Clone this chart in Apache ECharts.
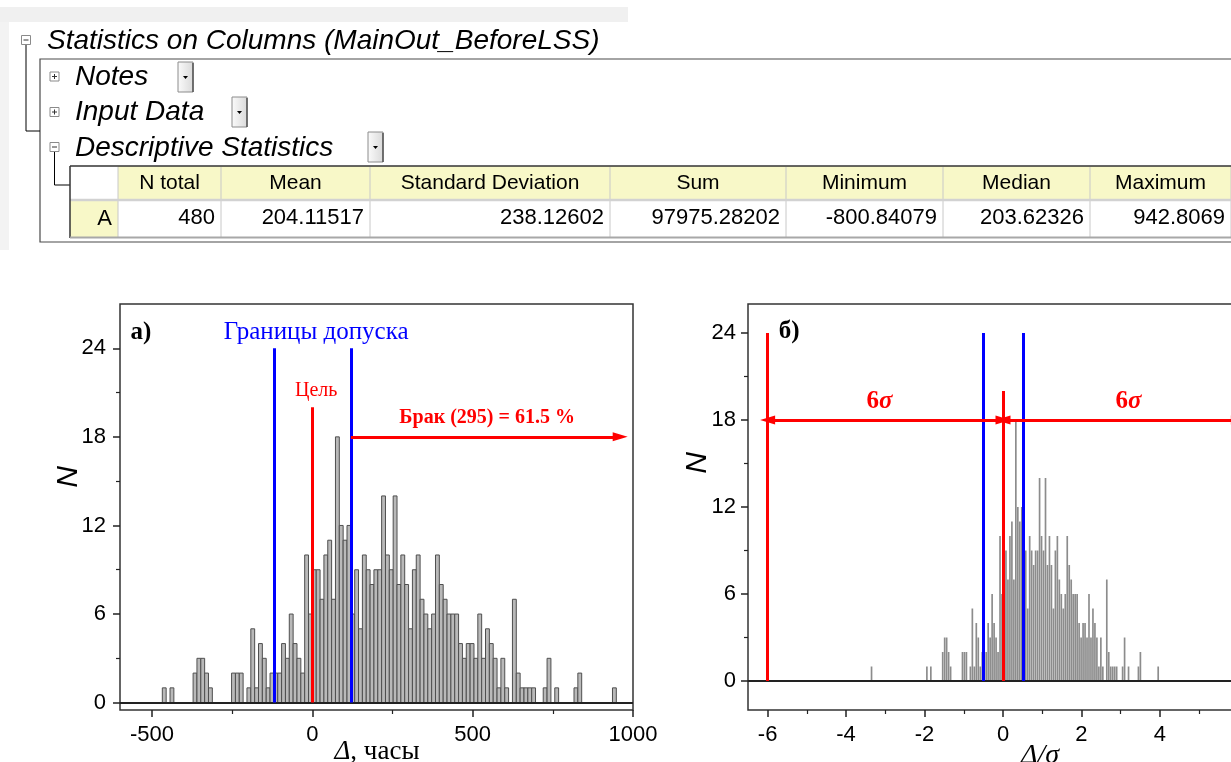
<!DOCTYPE html>
<html>
<head>
<meta charset="utf-8">
<script src="https://cdn.jsdelivr.net/npm/echarts@6/dist/echarts.min.js"></script>
<style>
  html, body { margin: 0; padding: 0; background: #fff; }
  #main { width: 1231px; height: 762px; }
</style>
</head>
<body>
<div id="main"></div>
<script>
// ---- Descriptive statistics table ----
const statHeaders = ['N total', 'Mean', 'Standard Deviation', 'Sum', 'Minimum', 'Median', 'Maximum'];
const statRowName = 'A';
const statValues = ['480', '204.11517', '238.12602', '97975.28202', '-800.84079', '203.62326', '942.8069'];

// ---- Histogram of deviations Δ (hours), 12-hour bins; only non-empty bins listed ----
const BIN_WIDTH = 12;
const binStartHours = [
  -804, -468, -444, -372, -360, -348, -336, -324, -252, -240, -228, -204, -192, -180, -168, -156,
  -144, -132, -120, -108, -96, -84, -72, -60, -48, -36, -24, -12,
  0, 12, 24, 36, 48, 60, 72, 84, 96, 108, 120, 132, 144, 156, 168, 180, 192, 204, 216, 228,
  240, 252, 264, 276, 288, 300, 312, 324, 336, 348, 360, 372, 384, 396, 408, 420, 432, 444,
  456, 468, 480, 492, 504, 516, 528, 540, 552, 564, 576, 588, 600, 624, 636, 648, 660, 672,
  684, 720, 732, 756, 816, 828, 936
];
const binCounts = [
  1, 1, 1, 2, 3, 3, 2, 1, 2, 2, 2, 1, 5, 1, 4, 3,
  1, 2, 2, 2, 4, 3, 6, 4, 3, 2, 10, 6,
  9, 9, 7, 10, 11, 7, 18, 12, 11, 12, 6, 9, 5, 10, 9, 8, 9, 9, 14, 10,
  9, 14, 8, 10, 8, 5, 9, 10, 7, 6, 5, 6, 10, 8, 7, 6, 6, 6,
  4, 3, 4, 4, 3, 6, 3, 5, 4, 3, 1, 3, 1, 7, 2, 1, 1, 1,
  1, 1, 3, 1, 1, 2, 1
];

// ---- Tolerance, target and reject annotation ----
const toleranceHours = [-120, 120];
const targetHours = 0;
const limitLineTop = 24;
const targetLineTop = 20;
const arrowLevel = 18;
const rejectArrowEnd = 960;
const rejectLabel = 'Брак (295) = 61.5 %';
const sigmaSpan = [-6, 0, 6];

// ---- Axis ticks ----
const xTicksHours = [-500, 0, 500, 1000];
const xMinorHours = [-250, 250, 750];
const xTicksSigma = [-6, -4, -2, 0, 2, 4, 6];
const xMinorSigma = [-5, -3, -1, 1, 3, 5];
const yTicksN = [0, 6, 12, 18, 24];
const yMinorN = [3, 9, 15, 21];

const sigma = parseFloat(statValues[2]);

const SANS = '"Liberation Sans", Arial, sans-serif';
const SERIF = '"Liberation Serif", "Times New Roman", serif';
const RED = '#ff0000';
const BLUE = '#0000ff';

const histHours = binStartHours
  .map((s, i) => [s, s + BIN_WIDTH, binCounts[i]])
  .filter(d => d[0] >= -600);
const histSigma = binStartHours.map((s, i) => [s / sigma, (s + BIN_WIDTH) / sigma, binCounts[i]]);

function histRender(fill, stroke, lineWidth, frac) {
  return function (params, api) {
    const p0 = api.coord([api.value(0), api.value(2)]);
    const p1 = api.coord([api.value(1), 0]);
    const w = p1[0] - p0[0];
    const inset = w * (1 - frac) / 2;
    return {
      type: 'rect',
      shape: { x: p0[0] + inset, y: p0[1], width: w - 2 * inset, height: p1[1] - p0[1] },
      style: { fill: fill, stroke: stroke, lineWidth: lineWidth }
    };
  };
}

function majorAxis(gridIndex, position, min, max, ticks, margin) {
  return {
    type: 'value', gridIndex, position, min, max,
    axisLine: { show: false, onZero: false }, splitLine: { show: false },
    axisTick: { show: true, inside: false, length: 7, lineStyle: { color: '#222', width: 1.5 }, customValues: ticks },
    axisLabel: { show: true, customValues: ticks, margin, fontSize: 22, fontFamily: SANS, color: '#000',
                 formatter: v => String(v) }
  };
}
function minorAxis(gridIndex, position, min, max, ticks) {
  return {
    type: 'value', gridIndex, position, min, max,
    axisLine: { show: false, onZero: false }, splitLine: { show: false },
    axisTick: { show: true, inside: false, length: 4, lineStyle: { color: '#222', width: 1.2 }, customValues: ticks },
    axisLabel: { show: false }
  };
}

function vLine(x, top, color) {
  return [{ coord: [x, 0], symbol: 'none', lineStyle: { color, width: 3, type: 'solid' } },
          { coord: [x, top], symbol: 'none' }];
}
function arrow(x0, x1, y, startHead) {
  return [{ coord: [x0, y], symbol: startHead ? 'triangle' : 'none', symbolSize: [9, 15],
            lineStyle: { color: RED, width: 3, type: 'solid' } },
          { coord: [x1, y], symbol: 'triangle', symbolSize: [9, 15] }];
}
const baseLine = { yAxis: 0, symbol: 'none', lineStyle: { color: '#222', width: 1.8, type: 'solid' } };

const option = {
  animation: false,
  backgroundColor: '#ffffff',
  grid: [
    { left: 120, width: 513, top: 304, height: 406, outerBoundsMode: 'none', containLabel: false,
      show: true, borderColor: '#333', borderWidth: 1.5 },
    { left: 748, width: 510, top: 304, height: 406, outerBoundsMode: 'none', containLabel: false,
      show: true, borderColor: '#333', borderWidth: 1.5 }
  ],
  xAxis: [
    majorAxis(0, 'bottom', -600, 1000, xTicksHours, 14),
    minorAxis(0, 'bottom', -600, 1000, xMinorHours),
    majorAxis(1, 'bottom', -6.5, 6.5, xTicksSigma, 14),
    minorAxis(1, 'bottom', -6.5, 6.5, xMinorSigma)
  ],
  yAxis: [
    majorAxis(0, 'left', -0.5, 27, yTicksN, 14),
    minorAxis(0, 'left', -0.5, 27, yMinorN),
    majorAxis(1, 'left', -2, 26, yTicksN, 12),
    minorAxis(1, 'left', -2, 26, yMinorN)
  ],
  series: [
    {
      type: 'custom', xAxisIndex: 0, yAxisIndex: 0, z: 2, silent: true,
      renderItem: histRender('#b9b9b9', '#4f4f4f', 1, 1),
      encode: { x: [0, 1], y: 2 },
      data: histHours
    },
    {
      type: 'custom', xAxisIndex: 2, yAxisIndex: 2, z: 2, silent: true,
      renderItem: histRender('#8c8c8c', null, 0, 0.85),
      encode: { x: [0, 1], y: 2 },
      data: histSigma
    },
    {
      type: 'line', xAxisIndex: 0, yAxisIndex: 0, data: [], z: 3, silent: true,
      markLine: {
        silent: true, animation: false, label: { show: false }, symbol: 'none',
        emphasis: { disabled: true },
        data: [
          baseLine,
          vLine(toleranceHours[0], limitLineTop, BLUE),
          vLine(toleranceHours[1], limitLineTop, BLUE),
          vLine(targetHours, targetLineTop, RED),
          arrow(toleranceHours[1], rejectArrowEnd, arrowLevel, false)
        ]
      }
    },
    {
      type: 'line', xAxisIndex: 2, yAxisIndex: 2, data: [], z: 3, silent: true,
      markLine: {
        silent: true, animation: false, label: { show: false }, symbol: 'none',
        emphasis: { disabled: true },
        data: [
          baseLine,
          vLine(sigmaSpan[0], limitLineTop, RED),
          vLine(toleranceHours[0] / sigma, limitLineTop, BLUE),
          vLine(toleranceHours[1] / sigma, limitLineTop, BLUE),
          vLine(sigmaSpan[1], targetLineTop, RED),
          arrow(sigmaSpan[0], sigmaSpan[1], arrowLevel, true),
          arrow(sigmaSpan[1], sigmaSpan[2], arrowLevel, true)
        ]
      }
    }
  ]
};

const chart = echarts.init(document.getElementById('main'), null, { renderer: 'canvas' });
chart.setOption(option);

// ---- Text helpers ----
function txt(x, y, text, font, fill, align, extra) {
  return Object.assign({
    type: 'text', x, y, silent: true, z: 10,
    style: { text, font, fill: fill || '#000', align: align || 'left', verticalAlign: 'middle',
             textAlign: align || 'left', textVerticalAlign: 'middle' }
  }, extra || {});
}
function rect(x, y, w, h, fill, stroke, lw) {
  return { type: 'rect', silent: true, z: 5, shape: { x, y, width: w, height: h },
           style: { fill: fill || 'none', stroke: stroke || null, lineWidth: lw || 1 } };
}
function line(x1, y1, x2, y2, color, lw) {
  return { type: 'line', silent: true, z: 6, shape: { x1, y1, x2, y2 },
           style: { stroke: color, lineWidth: lw || 1 } };
}
function treeBox(cx, cy, plus) {
  const els = [rect(cx - 4.5, cy - 4.5, 9, 9, '#fff', '#8a8a8a', 1), line(cx - 2.5, cy, cx + 2.5, cy, '#333', 1)];
  if (plus) els.push(line(cx, cy - 2.5, cx, cy + 2.5, '#333', 1));
  return els;
}
function dropButton(x, y) {
  return [
    { type: 'rect', silent: true, z: 5, shape: { x, y, width: 15, height: 30 },
      style: { fill: new echarts.graphic.LinearGradient(0, 0, 1, 0, [{ offset: 0, color: '#fbfbfb' }, { offset: 1, color: '#d9d9d9' }]),
               stroke: '#8c8c8c', lineWidth: 1 } },
    line(x + 15, y + 1, x + 15, y + 30, '#555', 1.5),
    { type: 'polygon', silent: true, z: 6, shape: { points: [[x + 5, y + 14], [x + 10, y + 14], [x + 7.5, y + 17]] },
      style: { fill: '#000' } }
  ];
}

// ---- Statistics table drawn with graphic elements ----
const colEdges = [70, 118, 221, 370, 610, 786, 943, 1090, 1231];
const tableEls = [];
tableEls.push(rect(0, 7, 628, 15, '#f0f0f0', null));
tableEls.push(rect(0, 22, 9, 228, '#f3f3f3', null));
tableEls.push(...treeBox(26, 40, false));
tableEls.push(txt(47, 41, 'Statistics on Columns (MainOut_BeforeLSS)', 'italic 28px ' + SANS, '#000'));
tableEls.push({ type: 'polyline', silent: true, z: 6, shape: { points: [[26, 45], [26, 131], [40, 131]] }, style: { stroke: '#000', lineWidth: 1, fill: null } });
tableEls.push(rect(40, 59, 1210, 183, null, '#4a4a4a', 1.2));
tableEls.push(...treeBox(54.5, 76.5, true));
tableEls.push(txt(75, 77, 'Notes', 'italic 28px ' + SANS, '#000'));
tableEls.push(...dropButton(178, 62));
tableEls.push(...treeBox(54.5, 112, true));
tableEls.push(txt(75, 112, 'Input Data', 'italic 28px ' + SANS, '#000'));
tableEls.push(...dropButton(232, 97));
tableEls.push(...treeBox(54.5, 147, false));
tableEls.push(txt(75, 148, 'Descriptive Statistics', 'italic 28px ' + SANS, '#000'));
tableEls.push(...dropButton(368, 132));
tableEls.push({ type: 'polyline', silent: true, z: 6, shape: { points: [[54.5, 152], [54.5, 185], [70, 185]] }, style: { stroke: '#000', lineWidth: 1, fill: null } });

// header row
tableEls.push(rect(colEdges[0], 166, colEdges[1] - colEdges[0], 34, '#ffffff', null));
tableEls.push(rect(colEdges[1], 166, 1240 - colEdges[1], 34, '#f8f8c8', null));
// data row
tableEls.push(rect(colEdges[0], 200, colEdges[1] - colEdges[0], 37, '#f8f8c8', null));
tableEls.push(rect(colEdges[1], 200, 1240 - colEdges[1], 37, '#ffffff', null));
for (let i = 1; i < colEdges.length; i++) {
  tableEls.push(line(colEdges[i], 167, colEdges[i], 237, '#c8c8c8', 1));
}
tableEls.push(line(colEdges[0], 200, 1240, 200, '#d2d2d2', 2.5));
tableEls.push(line(colEdges[0], 166, 1240, 166, '#333', 1.5));
tableEls.push(line(colEdges[0], 166, colEdges[0], 238, '#333', 1.5));
tableEls.push(line(colEdges[0], 237.5, 1240, 237.5, '#a8a8a8', 2));
statHeaders.forEach((h, i) => {
  tableEls.push(txt((colEdges[i + 1] + colEdges[i + 2]) / 2, 183, h, '21px ' + SANS, '#000', 'center'));
});
tableEls.push(txt(colEdges[1] - 6, 219, statRowName, '22px ' + SANS, '#000', 'right'));
statValues.forEach((v, i) => {
  tableEls.push(txt(colEdges[i + 2] - 6, 218, v, '22px ' + SANS, '#000', 'right'));
});

// ---- Chart annotations placed through the axes ----
const pA = (x, y) => chart.convertToPixel({ gridIndex: 0 }, [x, y]);
const pB = (x, y) => chart.convertToPixel({ gridIndex: 1 }, [x, y]);

const annoEls = [];
let p;
p = pA(-535, 25.1); annoEls.push(txt(p[0], p[1], 'а)', 'bold 25px ' + SERIF, '#000', 'center'));
p = pA(12, 25.1); annoEls.push(txt(p[0], p[1], 'Границы допуска', '25px ' + SERIF, BLUE, 'center'));
p = pA(12, 21.1); annoEls.push(txt(p[0], p[1], 'Цель', '20px ' + SERIF, RED, 'center'));
p = pA(545, 19.3); annoEls.push(txt(p[0], p[1], rejectLabel, 'bold 20px ' + SERIF, RED, 'center'));
p = pB(-5.45, 24.1); annoEls.push(txt(p[0], p[1], 'б)', 'bold 25px ' + SERIF, '#000', 'center'));
const sixSigmaRich = {
  n: { font: 'bold 25px ' + SERIF, fill: RED, color: RED },
  s: { font: 'italic bold 25px ' + SERIF, fill: RED, color: RED }
};
[-3.15, 3.2].forEach(x => {
  const q = pB(x, 19.3);
  annoEls.push({
    type: 'text', x: q[0], y: q[1], silent: true, z: 10,
    style: { text: '{n|6}{s|σ}', rich: sixSigmaRich, align: 'center', verticalAlign: 'middle',
             textAlign: 'center', textVerticalAlign: 'middle', fill: RED }
  });
});

// axis titles
annoEls.push({
  type: 'text', x: 377, y: 752, silent: true, z: 10,
  style: {
    text: '{i|Δ}{r|, часы}', align: 'center', verticalAlign: 'middle', textAlign: 'center', textVerticalAlign: 'middle',
    rich: { i: { font: 'italic 27px ' + SERIF, fill: '#000', color: '#000' }, r: { font: '27px ' + SERIF, fill: '#000', color: '#000' } }
  }
});
annoEls.push(txt(1040, 756, 'Δ/σ', 'italic 28px ' + SERIF, '#000', 'center'));
annoEls.push(txt(69, 477, 'N', 'italic 30px ' + SANS, '#000', 'center', { rotation: Math.PI / 2 }));
annoEls.push(txt(698, 463, 'N', 'italic 30px ' + SANS, '#000', 'center', { rotation: Math.PI / 2 }));

chart.setOption({ graphic: { elements: tableEls.concat(annoEls) } });
</script>
</body>
</html>
